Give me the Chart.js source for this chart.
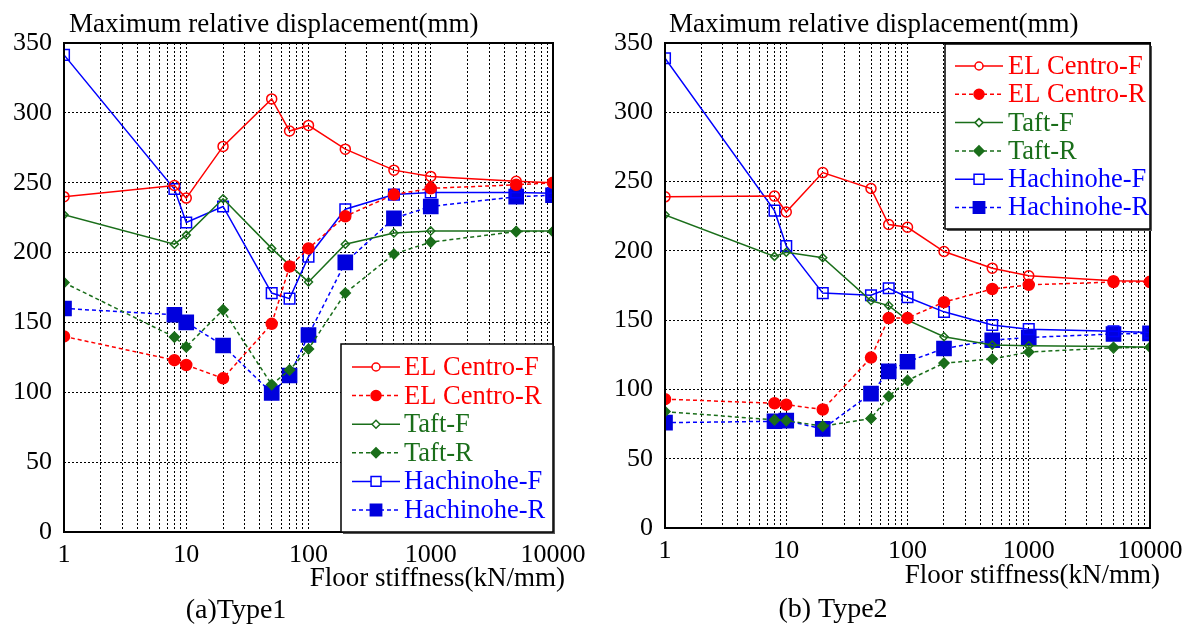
<!DOCTYPE html>
<html><head><meta charset="utf-8">
<script src="https://cdn.jsdelivr.net/npm/chart.js@4/dist/chart.umd.min.js"></script>
<style>
html,body{margin:0;padding:0;background:#fff;width:1192px;height:628px;overflow:hidden}
.box{position:absolute;top:0;height:628px}
</style></head><body>
<div class="box" style="left:0;width:600px"><canvas id="c1"></canvas></div>
<div class="box" style="left:600px;width:592px"><canvas id="c2"></canvas></div>
<script>
// ---------------- DATA ----------------
const stiffness = [1, 8, 10, 20, 50, 70, 100, 200, 500, 1000, 5000, 10000];
const xTickLabels = [1, 10, 100, 1000, 10000];
const yTicks = [0, 50, 100, 150, 200, 250, 300, 350];
const seriesNames = ['EL Centro-F', 'EL Centro-R', 'Taft-F', 'Taft-R', 'Hachinohe-F', 'Hachinohe-R'];

// (a) Type1
const type1ElCentroF  = [240, 248, 239, 276, 310, 287, 291, 274, 259, 254.5, 251, 250];
const type1ElCentroR  = [140, 123, 119.5, 110, 149, 190, 203, 226, 241.5, 246, 248.5, 250];
const type1TaftF      = [227, 206, 212.5, 238.5, 203, 191, 179, 206, 214, 215.5, 215.5, 215.5];
const type1TaftR      = [178.5, 139.5, 132.5, 159, 105.5, 116, 131, 171, 199, 207.5, 215, 215];
const type1HachinoheF = [341.5, 245.5, 221.5, 233, 171, 167, 197, 231, 241.5, 243, 243, 242.5];
const type1HachinoheR = [160, 155.5, 150, 133.5, 99.5, 112, 141, 193, 224.5, 233, 240, 241];

// (b) Type2
const type2ElCentroF  = [239, 239.5, 228, 256.5, 245, 219, 217, 199.5, 187.5, 182, 178.5, 178];
const type2ElCentroR  = [93, 90, 89, 85.5, 123, 151.5, 151.5, 163, 172.5, 175.5, 177.5, 177.5];
const type2TaftF      = [226, 196, 199, 195, 164, 160.5, 150, 138, 132, 131.5, 131, 130.5];
const type2TaftR      = [84, 78, 77.5, 73.5, 79, 95, 106.5, 119, 122, 127, 130, 130.5];
const type2HachinoheF = [339, 229, 203.5, 169.5, 168, 173, 166.5, 156, 146.5, 143.5, 142, 141];
const type2HachinoheR = [76, 77, 77.5, 71.5, 97, 113, 120, 129.5, 135.5, 137.5, 140, 140.5];

const yTitleText = 'Maximum relative displacement(mm)';
const xTitleText = 'Floor stiffness(kN/mm)';
const captionA = '(a)Type1';
const captionB = '(b) Type2';

// ---------------- STYLES ----------------
const FONT = "'Liberation Serif', 'Times New Roman', serif";
const RED = '#ff0000', GREEN = '#1a6e1a', BLUE = '#0000ff', BLUE_FILL = '#0000dd';
const seriesStyles = [
  {color: RED,   fill: null,      dash: [],     point: 'circle',  r: 5,   lr: 4},
  {color: RED,   fill: RED,       dash: [4, 3], point: 'circle',  r: 5.5, lr: 5},
  {color: GREEN, fill: null,      dash: [],     point: 'rectRot', r: 4,   lr: 4},
  {color: GREEN, fill: GREEN,     dash: [4, 3], point: 'rectRot', r: 5,   lr: 5},
  {color: BLUE,  fill: null,      dash: [],     point: 'rect',    r: 7.5, lr: 7},
  {color: BLUE,  fill: BLUE_FILL, dash: [4, 3], point: 'rect',    r: 10,  lr: 8}
];

function makeDatasets(seriesValues) {
  return seriesValues.map((vals, i) => {
    const s = seriesStyles[i];
    return {
      label: seriesNames[i],
      data: stiffness.map((x, k) => ({x: x, y: vals[k]})),
      borderColor: s.color,
      borderWidth: 1.5,
      borderDash: s.dash,
      pointStyle: s.point,
      pointRadius: s.r,
      pointBorderWidth: 1.5,
      pointBorderColor: s.fill || s.color,
      pointBackgroundColor: s.fill || 'rgba(0,0,0,0)',
      tension: 0,
      fill: false
    };
  });
}

function drawMarker(ctx, style, r, x, y, fill, color) {
  ctx.save();
  ctx.beginPath();
  if (style === 'circle') {
    ctx.arc(x, y, r, 0, Math.PI * 2);
  } else if (style === 'rect') {
    const s = r * Math.SQRT1_2;
    ctx.rect(x - s, y - s, 2 * s, 2 * s);
  } else {
    ctx.moveTo(x - r, y); ctx.lineTo(x, y - r); ctx.lineTo(x + r, y); ctx.lineTo(x, y + r); ctx.closePath();
  }
  ctx.lineWidth = 1.5;
  ctx.setLineDash([]);
  if (fill) { ctx.fillStyle = fill; ctx.fill(); ctx.strokeStyle = fill; }
  else { ctx.fillStyle = '#fff'; ctx.fill(); ctx.strokeStyle = color; }
  ctx.stroke();
  ctx.restore();
}

function decorPlugin(g) {
  return {
    id: 'decor',
    afterDatasetsDraw(chart) {
      const ctx = chart.ctx, a = chart.chartArea;
      ctx.save();
      // frame
      ctx.strokeStyle = '#000';
      ctx.lineWidth = 2;
      ctx.setLineDash([]);
      ctx.strokeRect(a.left, a.top, a.right - a.left, a.bottom - a.top);
      // legend box
      const L = g.legend;
      ctx.fillStyle = '#fff';
      ctx.fillRect(L.x0, L.y0, L.x1 - L.x0, L.y1 - L.y0);
      ctx.fillStyle = '#555';
      ctx.fillRect(L.x1, L.y0 + 2, 2, L.y1 - L.y0);
      ctx.fillRect(L.x0 + 2, L.y1, L.x1 - L.x0, 2);
      ctx.strokeStyle = '#000';
      ctx.lineWidth = 1.5;
      ctx.strokeRect(L.x0, L.y0, L.x1 - L.x0, L.y1 - L.y0);
      ctx.font = "26.5px " + FONT;
      ctx.textBaseline = 'middle';
      ctx.textAlign = 'left';
      chart.data.datasets.forEach((ds, i) => {
        const s = seriesStyles[i];
        const y = L.row0 + i * L.step;
        ctx.save();
        ctx.strokeStyle = s.color;
        ctx.lineWidth = 1.5;
        ctx.setLineDash(s.dash);
        ctx.beginPath();
        ctx.moveTo(L.lx0, y); ctx.lineTo(L.lx1, y);
        ctx.stroke();
        ctx.restore();
        drawMarker(ctx, s.point, s.lr, (L.lx0 + L.lx1) / 2, y, s.fill, s.color);
        ctx.fillStyle = s.color;
        ctx.fillText(ds.label, L.tx, y + 1);
      });
      // texts
      ctx.fillStyle = '#000';
      ctx.textBaseline = 'alphabetic';
      ctx.font = "27px " + FONT;
      ctx.textAlign = 'left';
      ctx.fillText(yTitleText, g.titleX, g.titleY);
      ctx.textAlign = 'right';
      ctx.font = "27px " + FONT;
      ctx.fillText(xTitleText, g.xTitleRight, g.xTitleY);
      ctx.textAlign = 'center';
      ctx.font = "28px " + FONT;
      ctx.fillText(g.caption, g.captionX, g.captionY);
      ctx.restore();
    }
  };
}

function buildChart(id, seriesValues, g) {
  const majorSet = new Set(xTickLabels);
  return new Chart(document.getElementById(id), {
    type: 'line',
    data: {datasets: makeDatasets(seriesValues)},
    options: {
      responsive: true,
      maintainAspectRatio: false,
      animation: false,
      events: [],
      layout: {padding: {left: 0, right: g.padRight, top: g.padTop, bottom: 0}},
      plugins: {legend: {display: false}, tooltip: {enabled: false}, title: {display: false}},
      scales: {
        x: {
          type: 'logarithmic',
          min: xTickLabels[0],
          max: xTickLabels[xTickLabels.length - 1],
          afterFit(s) { s.height = g.xAxisH; },
          afterBuildTicks(s) {
            const t = [];
            for (let d = 0; d < xTickLabels.length - 1; d++) {
              for (let m = 1; m <= 9; m++) t.push({value: xTickLabels[d] * m});
            }
            t.push({value: xTickLabels[xTickLabels.length - 1]});
            s.ticks = t;
          },
          grid: {color: '#000', lineWidth: 1, drawTicks: false},
          border: {display: false, dash: [2, 2]},
          ticks: {
            autoSkip: false, maxRotation: 0, minRotation: 0, padding: 8, color: '#000',
            font: {family: FONT, size: 26},
            callback(v) { return majorSet.has(v) ? String(v) : ''; }
          }
        },
        y: {
          min: yTicks[0],
          max: yTicks[yTicks.length - 1],
          afterFit(s) { s.width = g.yAxisW; },
          afterBuildTicks(s) { s.ticks = yTicks.map(v => ({value: v})); },
          grid: {color: '#000', lineWidth: 1, drawTicks: false},
          border: {display: false, dash: [2, 2]},
          ticks: {padding: 12, color: '#000', font: {family: FONT, size: 26}}
        }
      }
    },
    plugins: [decorPlugin(g)]
  });
}

const geomA = {
  padTop: 43, padRight: 47, xAxisH: 96, yAxisW: 64,
  legend: {x0: 341, y0: 344, x1: 553, y1: 532, row0: 367, step: 28.6, lx0: 352, lx1: 400, tx: 404},
  titleX: 69, titleY: 32, xTitleRight: 565, xTitleY: 586,
  caption: captionA, captionX: 236, captionY: 618
};
const geomB = {
  padTop: 43, padRight: 42, xAxisH: 100, yAxisW: 65,
  legend: {x0: 345, y0: 44, x1: 550, y1: 229, row0: 66, step: 28.3, lx0: 355, lx1: 403, tx: 408},
  titleX: 69, titleY: 32, xTitleRight: 560, xTitleY: 583,
  caption: captionB, captionX: 233, captionY: 617
};

buildChart('c1', [type1ElCentroF, type1ElCentroR, type1TaftF, type1TaftR, type1HachinoheF, type1HachinoheR], geomA);
buildChart('c2', [type2ElCentroF, type2ElCentroR, type2TaftF, type2TaftR, type2HachinoheF, type2HachinoheR], geomB);
</script>
</body></html>
